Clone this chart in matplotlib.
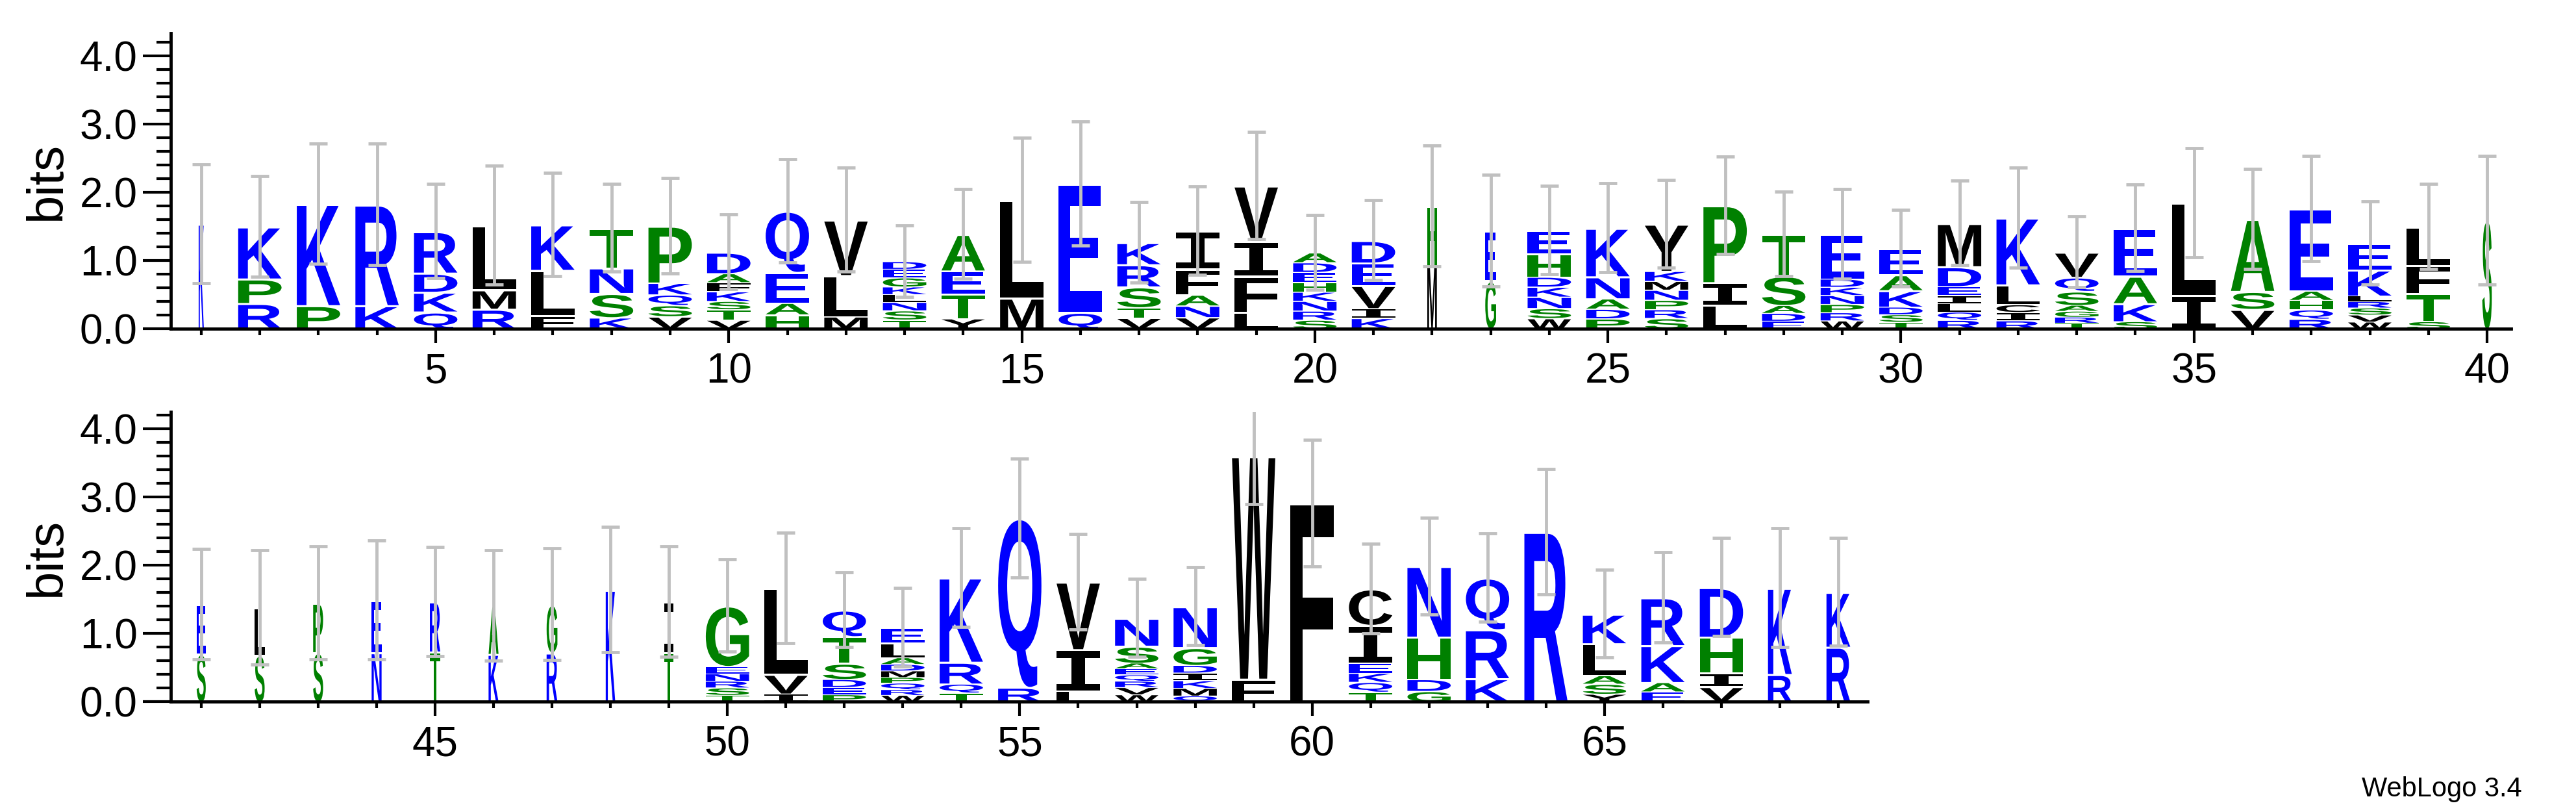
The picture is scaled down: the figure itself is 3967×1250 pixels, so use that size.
import numpy as np
import matplotlib
matplotlib.use('Agg')
import matplotlib.pyplot as plt
from matplotlib.textpath import TextPath
from matplotlib.patches import PathPatch
from matplotlib.font_manager import FontProperties
from matplotlib.transforms import Affine2D
from matplotlib.ticker import MultipleLocator

plt.rcParams['font.family'] = ['Liberation Sans', 'DejaVu Sans']

# stacks, bottom to top: letters and relative heights, total height in bits, error half-length
top_letters = ["K", "RPK", "PK", "KR", "QKDR", "RML", "FLK", "KSNT", "VSQKP", "VTSKFAD",
               "HAEQ", "MLV", "TSNLKGED", "YTEA", "ML", "QE", "VTSRK", "VNAFI", "LFIV", "SRNKHEDA",
               "KIVED", "MH", "GE", "WSNKDHE", "PDANK", "SRPNMKY", "LIP", "EDAST", "WRPNKDE", "TSDKAE",
               "RQLIEDM", "RICLK", "TRGASQV", "SKAE", "IL", "VSA", "RQHAE", "WVSRLKE", "STFL", "S"]
top_heights = [[1], [.42, .40, .85], [.40, 1.72], [.40, 1.71], [.27, .31, .30, .65], [.33, .32, 1.06],
               [.22, .75, .75], [.18, .38, .40, .62], [.19, .17, .16, .18, .86],
               [.13, .15, .12, .14, .13, .13, .31], [.23, .19, .49, .98], [.21, .68, .92],
               [.12, .12, .11, .10, .10, .12, .11, .10], [.17, .40, .37, .59], [.53, 1.67], [.29, 2.2],
               [.17, .16, .32, .34, .34], [.18, .18, .17, .40, .59], [.28, .60, .58, .92],
               [.12, .12, .13, .12, .13, .13, .13, .13], [.17, .15, .36, .35, .35], [1.08, 1.03],
               [.81, .83], [.16, .15, .17, .15, .15, .35, .35], [.16, .15, .16, .34, .75],
               [.16, .13, .14, .15, .13, .15, .70], [.40, .37, 1.27], [.12, .12, .12, .45, .63],
               [.12, .12, .12, .13, .12, .12, .65], [.10, .11, .11, .24, .23, .38],
               [.13, .12, .12, .12, .13, .29, .63], [.13, .13, .12, .31, 1.04],
               [.08, .08, .08, .08, .19, .19, .34], [.12, .29, .44, .77], [.58, 1.58], [.33, .30, 1.20],
               [.16, .15, .15, .15, 1.31], [.10, .10, .10, .09, .08, .37, .38], [.12, .45, .45, .62], [1]]
top_total = [1.54, 1.50, 1.83, 1.82, 1.43, 1.52, 1.53, 1.48, 1.51, 1.13, 1.73, 1.60, 0.99, 1.39, 1.89,
             2.13, 1.27, 1.44, 2.10, 1.12, 1.30, 1.80, 1.44, 1.45, 1.48, 1.54, 1.81, 1.39, 1.39, 1.18,
             1.55, 1.63, 1.13, 1.48, 1.85, 1.61, 1.76, 1.26, 1.50, 1.59]
top_err = [0.87, 0.74, 0.88, 0.89, 0.69, 0.87, 0.76, 0.64, 0.70, 0.55, 0.76, 0.76, 0.52, 0.66, 0.91,
           0.91, 0.59, 0.65, 0.79, 0.55, 0.59, 0.89, 0.82, 0.65, 0.65, 0.64, 0.71, 0.62, 0.66, 0.56,
           0.62, 0.73, 0.52, 0.63, 0.80, 0.73, 0.77, 0.61, 0.62, 0.94]
# column width (fraction of sequences covering the column)
top_width = [0.12, 1, 1, 1, 1, 1, 1, 1, 1, 1, 1, 1, 1, 1, 1, 1, 1, 1, 1, 1,
             1, 0.22, 0.25, 1, 1, 1, 1, 1, 1, 1, 1, 1, 1, 1, 1, 1, 1, 1, 1, 0.22]

bot_letters = ["SE", "SL", "SP", "NE", "TR", "KA", "RG", "K", "TI", "TSRNEG", "IVL", "PEDSTQ",
               "WRQPMDALE", "TQRK", "RQ", "LIV", "WVRQEASN", "QMKIDGN", "FW", "F", "TQKEIC", "GDHN",
               "KRQ", "R", "YSALK", "EAKR", "VIHD", "RK", "RK"]
bot_heights = [[.67, .68], [.67, .67], [.70, .70], [.68, .72], [.70, .70], [.67, .68], [.69, .68], [1],
               [.69, .71], [.08, .09, .08, .09, .09, .73], [.11, .27, 1.18], [.09, .09, .10, .20, .33, .33],
               [.07, .06, .07, .06, .07, .07, .07, .16, .16], [.12, .12, .29, 1.12], [.21, 2.43],
               [.15, .58, .94], [.08, .08, .07, .07, .07, .06, .19, .31], [.07, .09, .09, .09, .09, .21, .48],
               [.33, 3.2], [1], [.13, .13, .12, .13, .50, .48], [.15, .17, .59, .99], [.33, .69, .73], [1],
               [.10, .13, .11, .41, .38], [.14, .13, .51, .66], [.21, .19, .49, .68], [.39, 1.22], [.77, .77]]
bot_total = [1.43, 1.38, 1.45, 1.49, 1.47, 1.41, 1.43, 1.64, 1.47, 1.41, 1.67, 1.35, 1.09, 1.82, 2.69,
             1.76, 1.23, 1.40, 3.60, 2.91, 1.66, 1.99, 1.82, 2.49, 1.29, 1.53, 1.68, 1.67, 1.61]
bot_err = [0.81, 0.84, 0.83, 0.87, 0.80, 0.81, 0.82, 0.92, 0.81, 0.68, 0.81, 0.55, 0.58, 0.72, 0.87,
           0.70, 0.57, 0.57, 0.70, 0.93, 0.66, 0.71, 0.65, 0.92, 0.64, 0.66, 0.72, 0.87, 0.79]
bot_width = [0.21, 0.23, 0.23, 0.23, 0.24, 0.23, 0.25, 0.22, 0.21, 1, 1, 1, 1, 1, 1, 1, 1, 1, 1, 1,
             1, 1, 1, 1, 1, 1, 1, 0.55, 0.55]

colors = {}
for c in "RKDENQ":
    colors[c] = '#0000ff'
for c in "SGHTAP":
    colors[c] = '#008000'
for c in "YVMCLFIW":
    colors[c] = '#000000'

fp = FontProperties(family='Liberation Sans', weight='bold')
fp_i = FontProperties(family='Liberation Mono', weight='bold')


def draw_letter(ax, ch, x, y, w, h):
    tp = TextPath((0, 0), ch, size=1, prop=fp_i if ch == 'I' else fp)
    ext = tp.get_extents()
    tr = Affine2D().translate(-ext.x0, -ext.y0).scale(w / ext.width, h / ext.height).translate(x - w / 2, y)
    ax.add_patch(PathPatch(tr.transform_path(tp), fc=colors[ch], ec='none', lw=0))


def draw_logo(ax, start, letters, heights, totals, errs, widths):
    for i, (lets, hs, tot, e, wf) in enumerate(zip(letters, heights, totals, errs, widths)):
        x = start + i
        scale = tot / sum(hs)
        y = 0
        for ch, h in zip(lets, hs):
            hh = h * scale
            gap = min(0.03, hh * 0.12)
            draw_letter(ax, ch, x, y, 0.74 * wf, hh - gap)
            y += hh
        ax.errorbar([x], [tot], yerr=[e], color='#c0c0c0', lw=3.5, capsize=10, capthick=3.5, zorder=5)


fig = plt.figure(figsize=(39.67, 12.5), dpi=100)
ax1 = fig.add_axes([0.0663, 0.5952, 0.9085, 0.3637])
ax2 = fig.add_axes([0.0663, 0.136, 0.6587, 0.3568])

draw_logo(ax1, 1, top_letters, top_heights, top_total, top_err, top_width)
draw_logo(ax2, 41, bot_letters, bot_heights, bot_total, bot_err, bot_width)

for ax, xl, yl, first, last in [(ax1, (0.48, 40.41), 4.33, 1, 40), (ax2, (40.48, 69.5), 4.25, 41, 69)]:
    ax.set_xlim(*xl)
    ax.set_ylim(0, yl)
    ax.spines['top'].set_visible(False)
    ax.spines['right'].set_visible(False)
    ax.spines['left'].set_linewidth(3.5)
    ax.spines['bottom'].set_linewidth(3.5)
    ax.set_yticks([0, 1, 2, 3, 4])
    ax.set_yticklabels(['0.0', '1.0', '2.0', '3.0', '4.0'])
    ax.yaxis.set_minor_locator(MultipleLocator(0.2))
    major = [p for p in range(first, last + 1) if p % 5 == 0]
    ax.set_xticks(major)
    ax.set_xticks(range(first, last + 1), minor=True)
    ax.tick_params(axis='y', which='major', length=31, width=3, labelsize=46, pad=6)
    ax.tick_params(axis='y', which='minor', length=16, width=3)
    ax.tick_params(axis='x', which='major', length=16, width=3, labelsize=46, pad=10)
    ax.tick_params(axis='x', which='minor', length=7, width=3)
    ax.set_ylabel('bits', fontsize=56, labelpad=10)

fig.text(0.979, 0.012, 'WebLogo 3.4', ha='right', va='bottom', fontsize=30)

fig.savefig('out.png', dpi=100)
